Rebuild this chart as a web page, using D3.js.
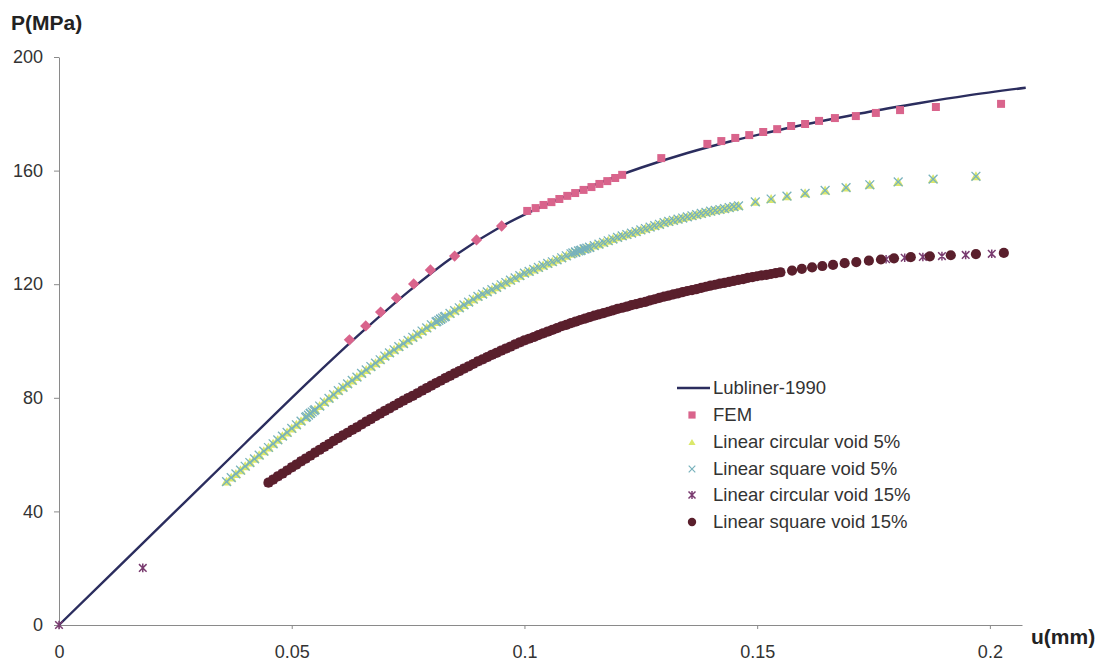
<!DOCTYPE html>
<html>
<head>
<meta charset="utf-8">
<script src="https://cdn.jsdelivr.net/npm/d3@7"></script>
<style>
body { margin: 0; background: #fff; }
svg { display: block; }
text { font-family: "Liberation Sans", Arial, sans-serif; }
</style>
</head>
<body>
<script>
// axis ticks
var xTicks = [0, 0.05, 0.1, 0.15, 0.2];
var xTickLabels = ["0", "0.05", "0.1", "0.15", "0.2"];
var yTicks = [0, 40, 80, 120, 160, 200];
var seriesNames = ["Lubliner-1990", "FEM", "Linear circular void 5%", "Linear square void 5%",
    "Linear circular void 15%", "Linear square void 15%"];

// Lubliner-1990 curve
var lubU = [0, 0.02, 0.04, 0.055, 0.065, 0.075, 0.085, 0.095, 0.105, 0.115, 0.125, 0.135, 0.145, 0.155, 0.165, 0.175, 0.185, 0.195, 0.2077];
var lubP = [0, 32, 64, 87.8, 103, 117.3, 130, 140.3, 148.3, 155, 161, 166.2, 170.6, 174.4, 177.8, 181, 183.8, 186.4, 189.2];

// FEM
var femU = [0.0624, 0.0659, 0.0691, 0.0725, 0.0762, 0.0798, 0.0850, 0.0897, 0.0951,
    0.1006, 0.1024, 0.1041, 0.1058, 0.1075, 0.1092, 0.1109, 0.1127, 0.1144, 0.1161, 0.1178, 0.1195, 0.1210,
    0.1294, 0.1393, 0.1423, 0.1453, 0.1483, 0.1513, 0.1543, 0.1573, 0.1603, 0.1633, 0.1667, 0.1712, 0.1755, 0.1807, 0.1884, 0.2024];
var femP = [100.4, 105.3, 110.2, 115.1, 120.1, 125.0, 129.9, 135.6, 140.5,
    145.8, 146.8, 147.9, 148.9, 150.0, 151.1, 152.1, 153.2, 154.2, 155.3, 156.3, 157.4, 158.5,
    164.4, 169.4, 170.4, 171.5, 172.5, 173.6, 174.6, 175.7, 176.4, 177.5, 178.5, 179.2, 180.3, 181.3, 182.4, 183.5];

// void 5% (circular and square lie on top of each other)
var void5U = [0.036, 0.037, 0.038, 0.039, 0.040, 0.041, 0.042, 0.043, 0.044, 0.045,
    0.046, 0.047, 0.048, 0.049, 0.050, 0.051, 0.052, 0.053, 0.054, 0.055,
    0.056, 0.057, 0.058, 0.059, 0.060, 0.061, 0.062, 0.063, 0.064, 0.065,
    0.066, 0.067, 0.068, 0.069, 0.070, 0.071, 0.072, 0.073, 0.074, 0.075,
    0.076, 0.077, 0.078, 0.079, 0.080, 0.081, 0.082, 0.083, 0.084, 0.085,
    0.086, 0.087, 0.088, 0.089, 0.090, 0.091, 0.092, 0.093, 0.094, 0.095,
    0.096, 0.097, 0.098, 0.099, 0.100, 0.101, 0.102, 0.103, 0.104, 0.105,
    0.106, 0.107, 0.108, 0.109, 0.110, 0.111, 0.112, 0.113, 0.114, 0.115,
    0.116, 0.117, 0.118, 0.119, 0.120, 0.121, 0.122, 0.123, 0.124, 0.125,
    0.126, 0.127, 0.128, 0.129, 0.130, 0.131, 0.132, 0.133, 0.134, 0.135,
    0.136, 0.137, 0.138, 0.139, 0.140, 0.141, 0.142, 0.143, 0.144, 0.145,
    0.146, 0.1496, 0.1530, 0.1564, 0.1603, 0.1646, 0.1691, 0.1742, 0.1803, 0.1878, 0.1970];
var void5P = [50.5, 51.9, 53.2, 54.5, 55.9, 57.2, 58.5, 59.8, 61.2, 62.5,
    63.8, 65.2, 66.5, 67.8, 69.2, 70.5, 71.8, 73.1, 74.5, 75.8,
    77.1, 78.5, 79.8, 81.1, 82.5, 83.7, 84.9, 86.1, 87.3, 88.6,
    89.8, 91.0, 92.2, 93.4, 94.7, 95.8, 96.9, 98.0, 99.1, 100.2,
    101.3, 102.4, 103.5, 104.6, 105.7, 106.7, 107.7, 108.7, 109.7, 110.7,
    111.7, 112.7, 113.7, 114.7, 115.7, 116.5, 117.3, 118.1, 118.9, 119.8,
    120.6, 121.4, 122.2, 123.0, 123.9, 124.5, 125.2, 125.9, 126.6, 127.3,
    127.9, 128.6, 129.3, 130.0, 130.7, 131.2, 131.8, 132.4, 133.0, 133.6,
    134.1, 134.7, 135.3, 135.9, 136.5, 137.0, 137.5, 138.0, 138.5, 139.1,
    139.6, 140.1, 140.6, 141.1, 141.7, 142.1, 142.5, 142.9, 143.3, 143.7,
    144.1, 144.5, 144.9, 145.3, 145.7, 146.0, 146.3, 146.6, 147.0, 147.3,
    147.6, 149, 150, 151, 152, 153, 154, 155, 156, 157, 158];
// extra square-void points bunched together (the blue spots)
var sq5ClusterU = [0.0532, 0.0536, 0.0540, 0.0544, 0.0548, 0.0812, 0.0816, 0.0820, 0.0824, 0.0828,
    0.1104, 0.1110, 0.1116, 0.1122, 0.1128, 0.1134, 0.1140];
var sq5ClusterP = [73.4, 73.9, 74.5, 75.0, 75.5, 106.9, 107.3, 107.7, 108.1, 108.5,
    131.0, 131.4, 131.7, 132.0, 132.4, 132.7, 133.0];

// void 15% dense part (shared by both 15% series)
var void15U = [0.045, 0.046, 0.047, 0.048, 0.049, 0.050, 0.051, 0.052, 0.053, 0.054,
    0.055, 0.056, 0.057, 0.058, 0.059, 0.060, 0.061, 0.062, 0.063, 0.064,
    0.065, 0.066, 0.067, 0.068, 0.069, 0.070, 0.071, 0.072, 0.073, 0.074,
    0.075, 0.076, 0.077, 0.078, 0.079, 0.080, 0.081, 0.082, 0.083, 0.084,
    0.085, 0.086, 0.087, 0.088, 0.089, 0.090, 0.091, 0.092, 0.093, 0.094,
    0.095, 0.096, 0.097, 0.098, 0.099, 0.100, 0.101, 0.102, 0.103, 0.104,
    0.105, 0.106, 0.107, 0.108, 0.109, 0.110, 0.111, 0.112, 0.113, 0.114,
    0.115, 0.116, 0.117, 0.118, 0.119, 0.120, 0.121, 0.122, 0.123, 0.124,
    0.125, 0.126, 0.127, 0.128, 0.129, 0.130, 0.131, 0.132, 0.133, 0.134,
    0.135, 0.136, 0.137, 0.138, 0.139, 0.140, 0.141, 0.142, 0.143, 0.144,
    0.145, 0.146, 0.147, 0.148, 0.149, 0.150, 0.151, 0.152, 0.153, 0.154, 0.155];
var void15P = [50.1, 51.2, 52.3, 53.3, 54.4, 55.5, 56.5, 57.6, 58.6, 59.6,
    60.7, 61.7, 62.7, 63.7, 64.8, 65.8, 66.8, 67.7, 68.7, 69.6,
    70.6, 71.6, 72.5, 73.5, 74.4, 75.4, 76.3, 77.2, 78.1, 79.0,
    79.9, 80.7, 81.6, 82.5, 83.4, 84.3, 85.2, 86.0, 86.9, 87.7,
    88.6, 89.4, 90.3, 91.1, 91.9, 92.8, 93.5, 94.3, 95.1, 95.8,
    96.6, 97.3, 98.0, 98.8, 99.5, 100.2, 100.8, 101.4, 102.1, 102.7,
    103.3, 103.9, 104.5, 105.2, 105.7, 106.3, 106.8, 107.4, 107.9, 108.4,
    108.9, 109.4, 109.8, 110.3, 110.8, 111.3, 111.7, 112.1, 112.6, 113.0,
    113.4, 113.8, 114.3, 114.7, 115.2, 115.6, 116.0, 116.4, 116.8, 117.2,
    117.6, 117.9, 118.3, 118.7, 119.1, 119.5, 119.8, 120.2, 120.5, 120.8,
    121.2, 121.5, 121.8, 122.2, 122.5, 122.8, 123.1, 123.3, 123.6, 123.9, 124.2];
var circ15HeadU = [0, 0.0180];
var circ15HeadP = [0, 20.1];
var circ15TailU = [0.1777, 0.1817, 0.1856, 0.1897, 0.1948, 0.2004];
var circ15TailP = [128.8, 129.3, 129.6, 129.9, 130.3, 130.7];
var sq15TailU = [0.1575, 0.1596, 0.1618, 0.1640, 0.1663, 0.1688, 0.1713, 0.1740, 0.1766, 0.1794, 0.1830, 0.1871, 0.1916, 0.1970, 0.2030];
var sq15TailP = [124.8, 125.4, 125.9, 126.4, 126.8, 127.4, 127.8, 128.3, 128.7, 129.1, 129.5, 129.8, 130.2, 130.6, 131.0];

function pairs(u, p) { return u.map(function (d, i) { return [d, p[i]]; }); }

var lub = pairs(lubU, lubP);
var fem = pairs(femU, femP);
var circ5 = pairs(void5U, void5P);
var sq5 = pairs(void5U, void5P).concat(pairs(sq5ClusterU, sq5ClusterP));
var circ15 = pairs(circ15HeadU, circ15HeadP).concat(pairs(void15U, void15P), pairs(circ15TailU, circ15TailP));
var sq15 = pairs(void15U, void15P).concat(pairs(sq15TailU, sq15TailP));

var w = 1104, h = 661;
var svg = d3.select("body").append("svg").attr("width", w).attr("height", h);
svg.append("rect").attr("width", w).attr("height", h).attr("fill", "#fff");

var x = d3.scaleLinear().domain([0, 0.2069]).range([59, 1022]);
var y = d3.scaleLinear().domain([0, 200]).range([625, 57]);

// axes
var xAxis = svg.append("g").attr("transform", "translate(0,625)")
    .call(d3.axisBottom(x).tickValues(xTicks).tickFormat(function (d, i) { return xTickLabels[i]; })
        .tickSize(4).tickSizeOuter(0).tickPadding(16));
var yAxis = svg.append("g").attr("transform", "translate(59,0)")
    .call(d3.axisLeft(y).tickValues(yTicks).tickSize(5).tickSizeOuter(0).tickPadding(11));
[xAxis, yAxis].forEach(function (g) {
    g.select(".domain").attr("stroke", "#8a8a8a");
    g.selectAll(".tick line").attr("stroke", "#8a8a8a");
    g.selectAll(".tick text").attr("fill", "#333").style("font-size", "18px")
        .style("font-family", "'Liberation Sans', Arial, sans-serif");
});

svg.append("text").attr("x", 11).attr("y", 30).attr("font-weight", "bold")
    .attr("font-size", 21).attr("fill", "#222").text("P(MPa)");
svg.append("text").attr("x", 1031).attr("y", 644).attr("font-weight", "bold")
    .attr("font-size", 21).attr("fill", "#222").text("u(mm)");

// marker helpers
var triPath = d3.symbol(d3.symbolTriangle, 46)();
var triLegend = d3.symbol(d3.symbolTriangle, 22)();
var sqPath = d3.symbol(d3.symbolSquare, 64)();
var sqLegend = d3.symbol(d3.symbolSquare, 52)();
function crossPath(s) { return "M" + (-s) + "," + (-s) + "L" + s + "," + s + "M" + (-s) + "," + s + "L" + s + "," + (-s); }
function starPath(s) { return crossPath(s) + "M0," + (-s - 0.5) + "L0," + (s + 0.5); }

var lineColor = "#2b2d5e", femColor = "#d9648c", triColor = "#dbe86a",
    xColor = "#78b2bc", starColor = "#7a3c70", dotColor = "#5a1f2c";

// Lubliner line
svg.append("path").datum(lub)
    .attr("d", d3.line().x(function (d) { return x(d[0]); }).y(function (d) { return y(d[1]); }).curve(d3.curveMonotoneX))
    .attr("fill", "none").attr("stroke", lineColor).attr("stroke-width", 2.4);

// FEM
svg.append("g").selectAll("path").data(fem).enter().append("path")
    .attr("d", sqPath)
    .attr("transform", function (d) {
        return "translate(" + x(d[0]) + "," + y(d[1]) + ")" + (d[0] < 0.1 ? " rotate(45)" : "");
    })
    .attr("fill", femColor);

// circular void 5%
svg.append("g").selectAll("path").data(circ5).enter().append("path")
    .attr("d", triPath)
    .attr("transform", function (d) { return "translate(" + x(d[0]) + "," + (y(d[1]) + 1) + ")"; })
    .attr("fill", triColor);

// square void 5%
svg.append("g").selectAll("path").data(sq5).enter().append("path")
    .attr("d", crossPath(4.4))
    .attr("transform", function (d) { return "translate(" + x(d[0]) + "," + y(d[1]) + ")"; })
    .attr("fill", "none").attr("stroke", xColor).attr("stroke-width", 1.3);

// circular void 15%
svg.append("g").selectAll("path").data(circ15).enter().append("path")
    .attr("d", starPath(3.8))
    .attr("transform", function (d) { return "translate(" + x(d[0]) + "," + y(d[1]) + ")"; })
    .attr("fill", "none").attr("stroke", starColor).attr("stroke-width", 1.5);

// square void 15%
svg.append("g").selectAll("circle").data(sq15).enter().append("circle")
    .attr("cx", function (d) { return x(d[0]); })
    .attr("cy", function (d) { return y(d[1]); })
    .attr("r", 5.1)
    .attr("fill", dotColor);

// legend
var legY = [388, 415, 442, 469, 495, 522];
var leg = svg.append("g");
leg.append("line").attr("x1", 677).attr("x2", 710).attr("y1", legY[0]).attr("y2", legY[0])
    .attr("stroke", lineColor).attr("stroke-width", 2.4);
leg.append("path").attr("d", sqLegend).attr("transform", "translate(692," + legY[1] + ")").attr("fill", femColor);
leg.append("path").attr("d", triLegend).attr("transform", "translate(692," + (legY[2] + 1) + ")").attr("fill", triColor);
leg.append("path").attr("d", crossPath(3.3)).attr("transform", "translate(692," + legY[3] + ")")
    .attr("fill", "none").attr("stroke", xColor).attr("stroke-width", 1.2);
leg.append("path").attr("d", starPath(3.5)).attr("transform", "translate(692," + legY[4] + ")")
    .attr("fill", "none").attr("stroke", starColor).attr("stroke-width", 1.5);
leg.append("circle").attr("cx", 692).attr("cy", legY[5]).attr("r", 4.2).attr("fill", dotColor);
leg.selectAll("text").data(seriesNames).enter().append("text")
    .attr("x", 713).attr("y", function (d, i) { return legY[i]; })
    .attr("dy", "0.35em").attr("font-size", 18.5).attr("fill", "#333")
    .text(function (d) { return d; });
</script>
</body>
</html>
